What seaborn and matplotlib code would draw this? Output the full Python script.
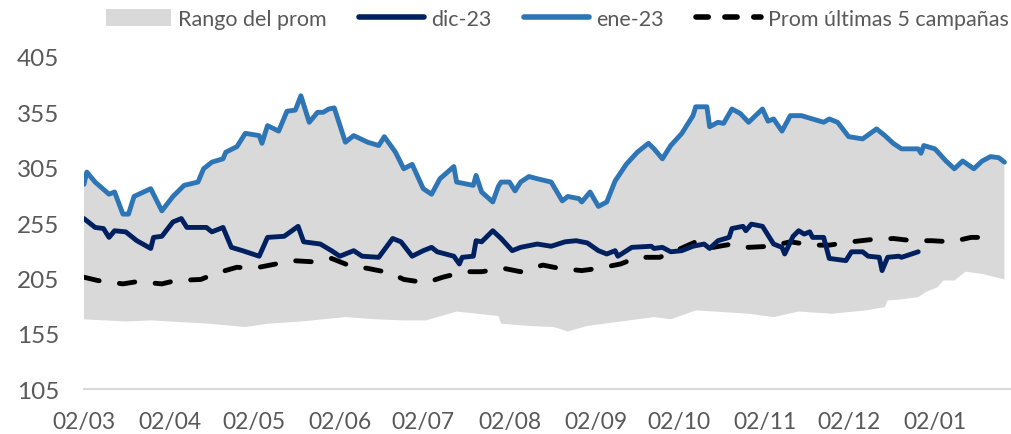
import numpy as np
import pandas as pd
import matplotlib
matplotlib.use("Agg")
import matplotlib.pyplot as plt
import matplotlib.dates as mdates
from matplotlib.patches import Patch
from matplotlib.lines import Line2D
import seaborn as sns

# Days counted from 02/03 and the values read for each series
inicio = pd.Timestamp("2023-03-02")

ene_dias = [0, 1, 4, 9, 11, 14, 16, 18, 24, 28, 32, 36, 41, 43, 46, 50, 51, 55, 58,
            63, 64, 66, 70, 73, 76, 78, 81, 84, 86, 88, 90, 94, 97, 102, 106, 108,
            112, 115, 118, 122, 125, 128, 133, 134, 140, 141, 143, 147, 149, 150,
            153, 155, 157, 160, 163, 168, 172, 174, 178, 179, 182, 185, 188, 191,
            195, 199, 203, 205, 208, 211, 215, 219, 220, 224, 225, 228, 230, 233,
            236, 239, 244, 246, 248, 251, 254, 258, 262, 266, 268, 271, 275, 280,
            285, 288, 291, 294, 300, 301, 302, 306, 310, 313, 316, 320, 323, 326,
            329, 331]
ene_vals = [290, 301, 292, 281, 283, 263, 263, 279, 286, 266, 279, 289, 292, 304, 310,
            313, 319, 324, 336, 334, 327, 343, 338, 356, 357, 370, 346, 355, 355, 358,
            359, 328, 334, 328, 325, 333, 319, 304, 308, 286, 281, 295, 306, 292, 289,
            298, 283, 274, 288, 292, 292, 284, 292, 297, 295, 292, 275, 279, 277, 274,
            283, 270, 274, 293, 308, 319, 327, 322, 313, 325, 336, 352, 360, 360, 342,
            346, 345, 358, 354, 346, 358, 347, 349, 338, 352, 352, 349, 346, 349, 346,
            333, 331, 340, 334, 327, 322, 322, 318, 325, 322, 311, 304, 311, 304, 311,
            315, 314, 310]

dic_dias = [0, 4, 7, 9, 11, 15, 19, 24, 25, 28, 32, 35, 37, 44, 46, 50, 53, 57, 63, 66,
            72, 77, 79, 85, 89, 92, 97, 100, 106, 111, 114, 118, 122, 125, 127, 133,
            135, 136, 140, 141, 143, 147, 150, 154, 157, 163, 168, 173, 177, 181, 185,
            188, 191, 192, 197, 204, 205, 208, 211, 215, 219, 223, 225, 228, 232, 233,
            237, 238, 240, 244, 248, 251, 252, 255, 257, 259, 261, 262, 266, 268, 274,
            276, 280, 282, 286, 287, 289, 293, 294, 300]
dic_vals = [259, 251, 250, 242, 248, 247, 239, 232, 242, 243, 256, 259, 251, 251, 247,
            251, 233, 230, 225, 242, 243, 252, 238, 236, 230, 225, 230, 225, 224, 241,
            238, 225, 230, 233, 229, 225, 218, 224, 225, 239, 238, 248, 241, 230, 233,
            236, 234, 238, 239, 237, 230, 227, 230, 225, 233, 234, 232, 233, 229, 230,
            234, 236, 232, 239, 242, 250, 252, 248, 254, 252, 236, 233, 227, 243, 248,
            245, 247, 242, 242, 223, 221, 229, 229, 225, 224, 212, 224, 225, 224, 229]

prom_dias = [0, 5, 14, 19, 28, 33, 42, 48, 55, 61, 69, 75, 82, 89, 96, 102, 110, 115,
             123, 129, 137, 143, 151, 157, 165, 171, 179, 185, 193, 199, 207, 212, 220,
             224, 233, 239, 247, 254, 262, 268, 276, 283, 291, 298, 305, 312, 319, 326]
prom_vals = [206, 203, 200, 202, 200, 203, 204, 210, 215, 214, 218, 221, 220, 223, 216,
             214, 210, 204, 201, 206, 211, 211, 214, 211, 217, 214, 212, 214, 218, 224,
             224, 229, 238, 232, 236, 233, 234, 238, 235, 235, 238, 240, 241, 239, 239,
             238, 242, 242]

rango_min_dias = [0, 15, 24, 45, 58, 66, 78, 94, 105, 115, 123, 134, 149, 150, 160, 169,
                  174, 181, 193, 205, 211, 220, 227, 239, 248, 257, 269, 281, 288, 289,
                  294, 300, 303, 307, 309, 313, 317, 323, 331]
rango_min_vals = [168, 166, 167, 164, 161, 164, 166, 170, 168, 167, 167, 175, 171, 164,
                  162, 161, 157, 162, 166, 170, 168, 176, 175, 173, 170, 175, 173, 176,
                  179, 185, 186, 188, 193, 197, 203, 203, 211, 209, 204]

y_ticks = [105, 155, 205, 255, 305, 355, 405]


def fechas(dias):
    return (inicio + pd.to_timedelta(dias, unit="D")).values


sns.set_theme(style="white")
plt.rcParams["font.family"] = ["Lato", "DejaVu Sans"]

gris_txt = "#595959"
c_rango = "#D9D9D9"
c_dic = "#002060"
c_ene = "#2E75B6"

fig = plt.figure(figsize=(10.12, 4.35), dpi=100)
ax = fig.add_axes([0.083, 0.1034, 0.915, 0.7633])

# range band: upper edge follows ene-23, lower edge read separately
xs_band = np.concatenate([fechas(ene_dias), fechas(rango_min_dias)[::-1]])
ys_band = np.concatenate([ene_vals, rango_min_vals[::-1]])
ax.fill(xs_band, ys_band, color=c_rango, linewidth=0, zorder=1)

df_dic = pd.DataFrame({"fecha": fechas(dic_dias), "valor": dic_vals})
df_ene = pd.DataFrame({"fecha": fechas(ene_dias), "valor": ene_vals})
df_prom = pd.DataFrame({"fecha": fechas(prom_dias), "valor": prom_vals})

sns.lineplot(data=df_prom, x="fecha", y="valor", ax=ax, color="black", lw=3.5,
             zorder=3)
ax.lines[-1].set_dashes((3.2, 4.2))
ax.lines[-1].set_dash_capstyle("round")
sns.lineplot(data=df_dic, x="fecha", y="valor", ax=ax, color=c_dic, lw=3.5, zorder=4)
sns.lineplot(data=df_ene, x="fecha", y="valor", ax=ax, color=c_ene, lw=3.5, zorder=4)

ax.set_ylim(105, 405)
ax.set_yticks(y_ticks)
ax.set_xlim(inicio, inicio + pd.Timedelta(days=333))
ax.xaxis.set_major_locator(mdates.MonthLocator(bymonthday=2))
ax.xaxis.set_major_formatter(mdates.DateFormatter("%d/%m"))
ax.set_xlabel("")
ax.set_ylabel("")

for s in ["top", "right", "left"]:
    ax.spines[s].set_visible(False)
ax.spines["bottom"].set_color(c_rango)
ax.spines["bottom"].set_linewidth(1.5)
ax.tick_params(axis="x", which="major", direction="out", length=7, width=1.2,
               color=c_rango, labelsize=16.5, labelcolor=gris_txt, pad=9)
ax.tick_params(axis="y", length=0, labelsize=17.5, labelcolor=gris_txt, pad=18)

handles = [
    Patch(facecolor=c_rango, edgecolor="none"),
    Line2D([], [], color=c_dic, lw=4),
    Line2D([], [], color=c_ene, lw=4),
    Line2D([], [], color="black", lw=4, dashes=(2.2, 3.0), dash_capstyle="round"),
]
labels = ["Rango del prom", "dic-23", "ene-23", "Prom últimas 5 campañas"]
fig.legend(handles, labels, loc="upper right", bbox_to_anchor=(0.997, 0.978), ncol=4,
           frameon=False, fontsize=15.5, labelcolor=gris_txt, handlelength=3.0,
           handleheight=0.9, handletextpad=0.35, columnspacing=1.5,
           borderpad=0.0, borderaxespad=0.0)

fig.savefig("out.png", dpi=100)
